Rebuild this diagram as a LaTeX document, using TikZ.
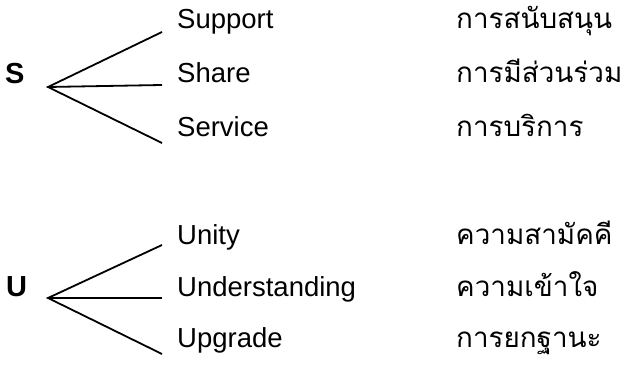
\documentclass[tikz,border=0pt]{standalone}
\usepackage{fontspec}
\setmainfont{Liberation Sans}
\newfontfamily\thaifont[Script=Thai]{Loma}
\usetikzlibrary{positioning}

\begin{document}
\begin{tikzpicture}[x=1pt, y=1pt,
    letter/.style={font=\bfseries\fontsize{29}{32}\selectfont, anchor=base west, inner sep=0pt},
    word/.style={font=\fontsize{27.5}{32}\selectfont, anchor=base west, inner sep=0pt},
    thai/.style={font=\thaifont\fontsize{27.8}{32}\selectfont, anchor=base west, inner sep=0pt},
    branch/.style={line width=1.8pt}]
  \useasboundingbox (0,0) rectangle (626,364);

  % S group
  \node[letter] (s) at (5,280) {S};
  \coordinate (sroot) at (48,277);
  \coordinate (support) at (162,332);
  \coordinate (share)   at (162,279);
  \coordinate (service) at (162,221);
  \node[word] (supportw) at (177,335) {Support};
  \node[word] (sharew)   at (177,281) {Share};
  \node[word] (servicew) at (177,227) {Service};
  \node[thai] (supportt) at (456,335) {การสนับสนุน};
  \node[thai] (sharet)   at (456,281) {การมีส่วนร่วม};
  \node[thai] (servicet) at (456,227) {การบริการ};

  \draw[branch] (support) -- (sroot) -- (service);
  \draw[branch] (sroot) -- (share);

  % U group
  \node[letter] (u) at (6,67) {U};
  \coordinate (uroot) at (48,66);
  \coordinate (unity)  at (162,119);
  \coordinate (under)  at (162,66);
  \coordinate (upgrade) at (162,10);
  \node[word] (unityw)   at (177,119) {Unity};
  \node[word] (underw)   at (177,67)  {Understanding};
  \node[word] (upgradew) at (177,17)  {Upgrade};
  \node[thai] (unityt)   at (456,119) {ความสามัคคี};
  \node[thai] (undert)   at (456,67)  {ความเข้าใจ};
  \node[thai] (upgradet) at (456,17)  {การยกฐานะ};

  \draw[branch] (unity) -- (uroot) -- (upgrade);
  \draw[branch] (uroot) -- (under);
\end{tikzpicture}
\end{document}
